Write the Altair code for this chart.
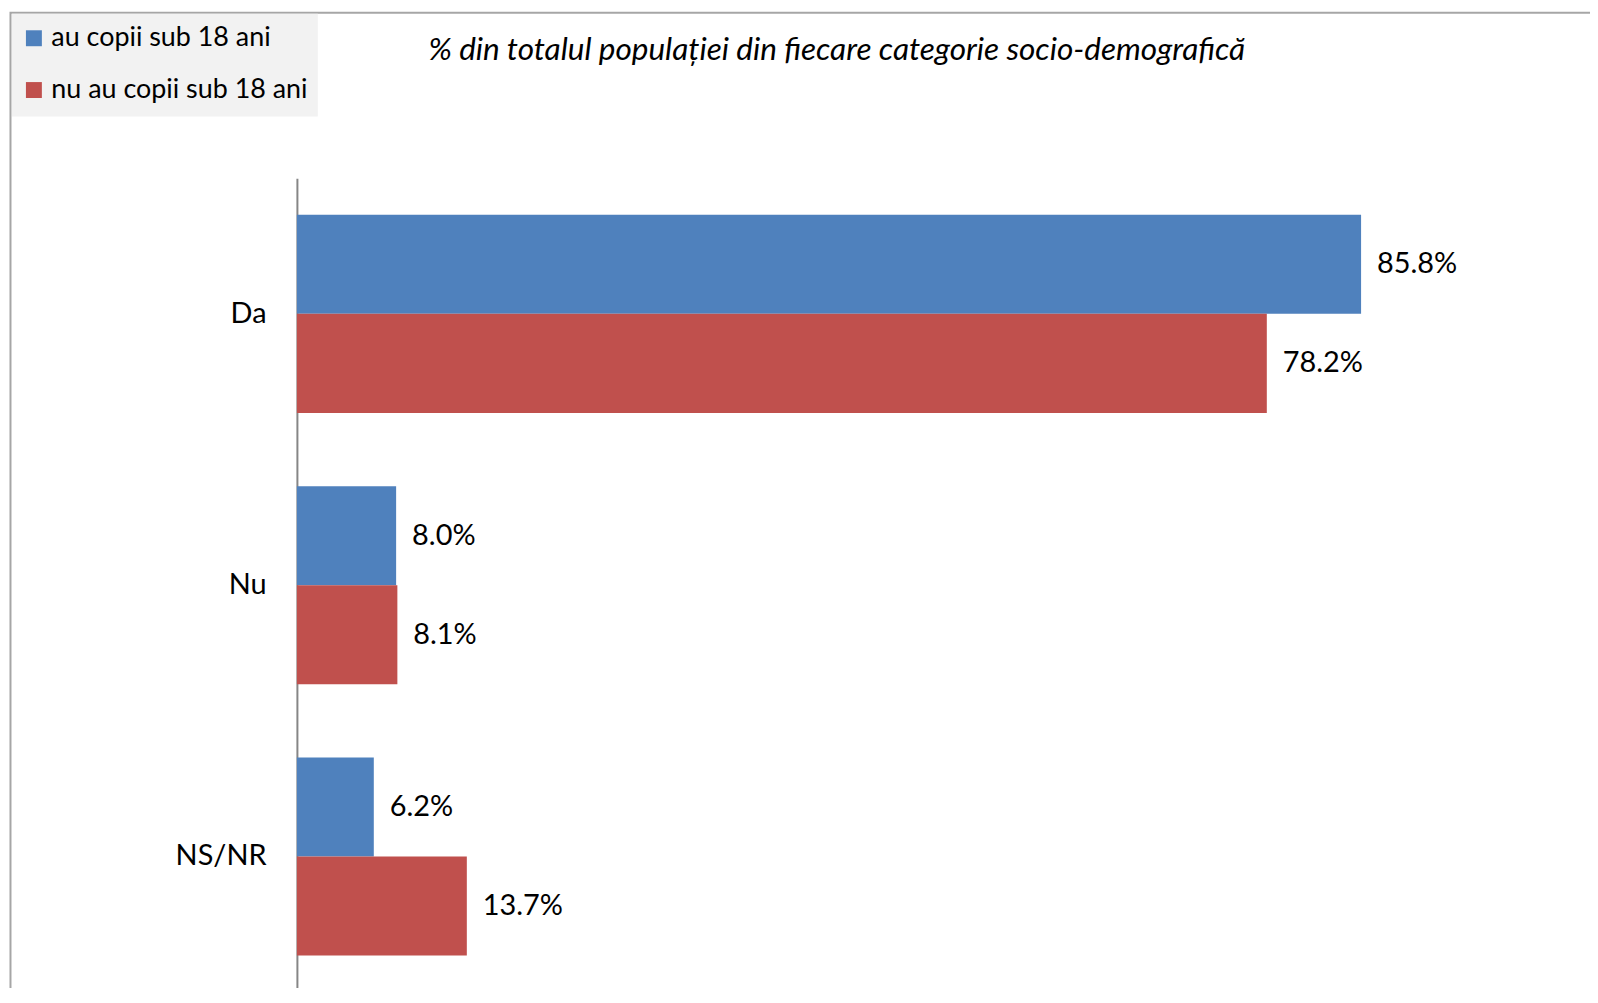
import altair as alt
import pandas as pd

categories = ["Da", "Nu", "NS/NR"]
series = ["au copii sub 18 ani", "nu au copii sub 18 ani"]
values_with = [85.8, 8.0, 6.2]
values_without = [78.2, 8.1, 13.7]
colors = ["#4F81BD", "#C0504D"]
title_text = "% din totalul populației din fiecare categorie socio-demografică"

rows = []
for c, a, b in zip(categories, values_with, values_without):
    rows.append({"cat": c, "serie": series[0], "val": a})
    rows.append({"cat": c, "serie": series[1], "val": b})
df = pd.DataFrame(rows)
df["label"] = df["val"].map(lambda v: f"{v:.1f}%")

FONT = "Lato"
LEFT = 290
OX = 8 + LEFT   # page x of plot origin
OY = 177        # page y of plot origin

y_enc = alt.Y("cat:N", sort=categories,
              scale=alt.Scale(paddingInner=0.27, paddingOuter=0.135, range=[0, 817]),
              axis=alt.Axis(title=None, ticks=False, grid=False, labelPadding=31,
                            labelFont=FONT, labelFontSize=29, labelColor="#000000",
                            domainColor="#868686", domainWidth=2))
yoff = alt.YOffset("serie:N", sort=series)
x_enc = alt.X("val:Q", scale=alt.Scale(domain=[0, 100]), axis=None)

bars = alt.Chart(df).mark_bar().encode(
    y=y_enc, yOffset=yoff, x=x_enc,
    color=alt.Color("serie:N", sort=series,
                    scale=alt.Scale(domain=series, range=colors),
                    legend=alt.Legend(title=None, orient="none", legendX=20.5 - OX,
                                      legendY=23 - OY, padding=0, symbolType="square",
                                      symbolSize=256, symbolStrokeWidth=0, labelFont=FONT,
                                      labelFontSize=27, labelColor="#000000", labelOffset=4,
                                      rowPadding=24, labelLimit=400)),
)

texts = alt.Chart(df).mark_text(align="left", baseline="middle", dx=16, font=FONT,
                                fontSize=29, color="#000000").encode(
    y=alt.Y("cat:N", sort=categories), yOffset=yoff, x=x_enc, text="label:N"
)

one = pd.DataFrame({"f": [0]})
frame = alt.Chart(one).mark_rect(
    filled=False, stroke="#a6a6a6", strokeWidth=2
).encode(x=alt.value(10.5 - OX), x2=alt.value(1400), y=alt.value(11 - OY), y2=alt.value(1000))

legend_bg = alt.Chart(one).mark_rect(fill="#f2f2f2").encode(
    x=alt.value(12 - OX), x2=alt.value(319 - OX), y=alt.value(12 - OY), y2=alt.value(115 - OY)
)

chart = alt.layer(frame, legend_bg, bars, texts).properties(
    width=1245, height=811,
    title=alt.TitleParams(title_text, font=FONT, fontStyle="italic", fontWeight="normal",
                          fontSize=31.6, color="#000000", anchor="start", frame="group",
                          dx=430 - OX, offset=0, dy=80, baseline="alphabetic"),
    autosize=alt.AutoSizeParams(type="none"),
    padding={"left": LEFT, "top": 169, "right": 1588 - LEFT - 1245, "bottom": 0},
).configure_view(strokeWidth=0)

chart.save("out.html", embed_options={"renderer": "svg", "actions": False})
